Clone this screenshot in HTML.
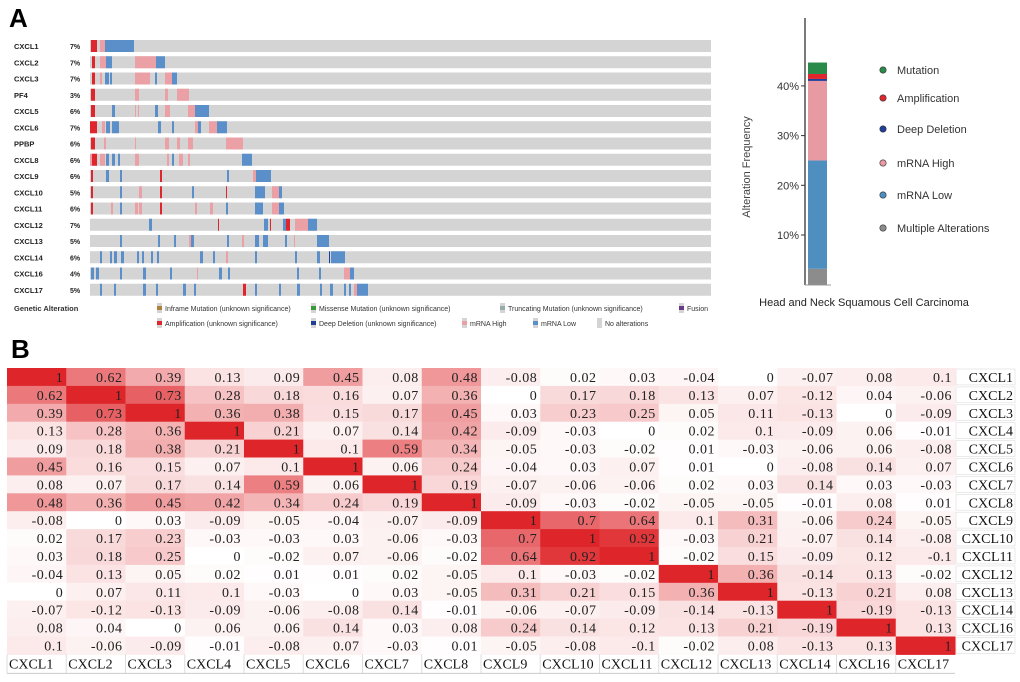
<!DOCTYPE html>
<html><head><meta charset="utf-8"><style>
body{margin:0;background:#fff;width:1020px;height:682px;overflow:hidden}
svg{display:block}
.s{font-family:"Liberation Sans",sans-serif}
.sf{font-family:"Liberation Serif","Noto Serif CJK SC",serif}
</style></head><body>
<svg id="fig" width="1020" height="682" viewBox="0 0 1020 682" xmlns="http://www.w3.org/2000/svg">
<text x="9" y="27" class="s" font-size="26" font-weight="bold">A</text>
<text x="11" y="358" class="s" font-size="26" font-weight="bold">B</text>
<g id="onco"></g>
<g id="oleg" class="s" font-size="7" fill="#333">
<text x="14" y="311" font-weight="bold" font-size="7.5">Genetic Alteration</text>
</g>
<g id="bar"></g>
<g id="heat"></g>
</svg>
<script>
const NS="http://www.w3.org/2000/svg";
function mk(p,t,a){const e=document.createElementNS(NS,t);for(const k in a)e.setAttribute(k,a[k]);p.appendChild(e);return e;}
const COL={r:"#e0262d",p:"#eba0a5",b:"#5b8fc9",d:"#1f3f9a",g:"#3a9a3a"};
// ---- Oncoprint data
const genes=["CXCL1","CXCL2","CXCL3","PF4","CXCL5","CXCL6","PPBP","CXCL8","CXCL9","CXCL10","CXCL11","CXCL12","CXCL13","CXCL14","CXCL16","CXCL17"];
const pcts=["7%","7%","7%","3%","6%","7%","6%","6%","6%","5%","6%","7%","5%","6%","4%","5%"];
const events=[
[[91,6,"r"],[100,5,"p"],[105,29,"b"]],
[[92,3,"r"],[100,6,"p"],[106,6,"b"],[135,21,"p"],[156,9,"b"]],
[[92,3,"r"],[100,2,"p"],[105,4,"b"],[110,2,"b"],[135,15,"p"],[155,2,"b"],[165,7,"p"],[172,5,"b"]],
[[91,4,"r"],[135,4,"p"],[165,3,"p"],[177,12,"p"]],
[[91,4,"r"],[112,3,"b"],[135,1,"p"],[138,1,"p"],[155,3,"b"],[165,5,"p"],[188,7,"p"],[195,14,"b"]],
[[90,7,"r"],[102,3,"p"],[106,4,"b"],[112,7,"b"],[158,3,"b"],[172,2,"b"],[195,3,"p"],[198,3,"b"],[209,8,"p"],[217,10,"b"]],
[[91,4,"r"],[104,2,"p"],[135,1,"p"],[165,4,"p"],[177,3,"p"],[188,5,"p"],[226,17,"p"]],
[[90,2,"p"],[92,5,"r"],[100,5,"p"],[106,3,"b"],[112,3,"b"],[118,2,"b"],[135,4,"p"],[167,2,"p"],[172,2,"b"],[179,4,"p"],[188,2,"p"],[242,10,"b"]],
[[91,2,"r"],[106,3,"b"],[120,2,"b"],[160,2,"r"],[227,2,"b"],[253,3,"p"],[256,15,"b"]],
[[91,2,"r"],[120,2,"b"],[139,3,"p"],[160,2,"r"],[192,2,"b"],[226,1,"r"],[255,10,"b"],[272,7,"p"],[279,3,"b"]],
[[91,2,"r"],[111,2,"p"],[120,2,"b"],[135,3,"p"],[139,3,"p"],[160,2,"r"],[195,2,"p"],[210,3,"p"],[226,2,"b"],[255,8,"b"],[272,7,"p"],[279,5,"b"]],
[[149,3,"b"],[218,1,"r"],[264,4,"b"],[270,1,"r"],[283,3,"b"],[286,4,"r"],[295,13,"p"],[308,9,"b"]],
[[120,2,"b"],[158,2,"b"],[174,2,"b"],[189,2,"p"],[191,3,"b"],[227,2,"b"],[242,2,"p"],[255,4,"b"],[263,5,"b"],[285,2,"b"],[294,1,"p"],[317,12,"b"]],
[[100,2,"b"],[110,2,"b"],[114,3,"b"],[121,3,"b"],[137,2,"b"],[142,2,"b"],[151,2,"b"],[157,2,"b"],[200,3,"b"],[213,2,"b"],[226,2,"p"],[255,2,"b"],[295,2,"b"],[317,3,"b"],[329,1,"d"],[331,14,"b"]],
[[91,3,"b"],[96,3,"b"],[120,2,"b"],[143,3,"b"],[170,2,"b"],[197,1,"p"],[219,3,"b"],[228,2,"b"],[297,2,"b"],[319,2,"b"],[344,6,"p"],[350,4,"b"]],
[[100,2,"b"],[114,2,"b"],[143,3,"b"],[156,2,"b"],[183,3,"b"],[194,2,"b"],[243,3,"r"],[255,2,"b"],[279,2,"b"],[297,3,"b"],[320,2,"b"],[330,3,"b"],[344,2,"b"],[349,2,"b"],[354,3,"p"],[357,11,"b"]]
];
const onco=document.getElementById("onco");
const rowY=i=>40+i*16.25;
genes.forEach((g,i)=>{
 const y=rowY(i);
 let t=mk(onco,"text",{x:14,y:y+9,"font-size":7.5,"font-weight":"bold","font-family":"Liberation Sans,sans-serif",fill:"#222"});t.textContent=g;
 
 
 let p=mk(onco,"text",{x:70,y:y+9,"font-size":7,"font-weight":"bold","font-family":"Liberation Sans,sans-serif",fill:"#222"});p.textContent=pcts[i];
 
 
 let r=mk(onco,"rect",{x:90,y:y,width:621,height:12,fill:"#d4d4d4"});
 
 
 events[i].forEach(ev=>{
  let e=mk(onco,"rect",{x:ev[0],y:y,width:ev[1],height:12,fill:COL[ev[2]]});
  
  
 });
});
// legend
const oleg=document.getElementById("oleg");
const legItems=[[157,311,"#b08040","Inframe Mutation (unknown significance)"],[311,311,"#3a9a3a","Missense Mutation (unknown significance)"],[500,311,"#9aa","Truncating Mutation (unknown significance)"],[679,311,"#6a3a8a","Fusion"],
[157,326,"#e0262d","Amplification (unknown significance)"],[311,326,"#1f3f9a","Deep Deletion (unknown significance)"],[462,326,"#eba0a5","mRNA High"],[533,326,"#5b8fc9","mRNA Low"],[597,326,"#d4d4d4","No alterations"]];
legItems.forEach(l=>{
 let r=mk(oleg,"rect",{x:l[0],y:l[1]-8,width:5,height:10,fill:"#d4d4d4"});
 
 
 let r2=mk(oleg,"rect",{x:l[0],y:l[1]-5,width:5,height:4,fill:l[2]});
 
 
 let t=mk(oleg,"text",{x:l[0]+8,y:l[1]});t.textContent=l[3];
 
 
});
// ---- Bar chart
const segNames=["Multiple Alterations","mRNA Low","mRNA High","Deep Deletion","Amplification","Mutation"];
const segVals=[3.2,21.8,16,0.4,1.0,2.3];
const segCols=["#8c8c8c","#4f8fbf","#e79aa2","#1f3f9a","#e0262d","#2a8a4a"];
const ticks=[10,20,30,40];
const bar=document.getElementById("bar");
const yS=v=>284.7-v*4.97;
let ax=mk(bar,"line",{x1:805,y1:18,x2:805,y2:285,stroke:"#333","stroke-width":1.3});


let bl=mk(bar,"line",{x1:805,y1:285,x2:831,y2:285,stroke:"#999","stroke-width":1});


ticks.forEach(t=>{
 let l=mk(bar,"line",{x1:801,y1:yS(t),x2:805,y2:yS(t),stroke:"#333"});
 
 
 let tx=mk(bar,"text",{x:799,y:yS(t)+4,"text-anchor":"end","font-size":11,"font-family":"Liberation Sans,sans-serif",fill:"#333"});tx.textContent=t+"%";
 
 
});
let acc=0;
segVals.forEach((v,i)=>{
 let r=mk(bar,"rect",{x:808,y:yS(acc+v),width:19,height:v*4.97,fill:segCols[i]});
 
 
 acc+=v;
});
const legY=[228,195,163,129,98,70];
segNames.forEach((n,i)=>{
 let c=mk(bar,"circle",{cx:883,cy:legY[i],r:3.2,fill:segCols[i],stroke:"#333","stroke-width":0.6});
 
 
 let t=mk(bar,"text",{x:897,y:legY[i]+4,"font-size":11,"font-family":"Liberation Sans,sans-serif",fill:"#333"});t.textContent=n;
 
 
});
let yt=mk(bar,"text",{x:0,y:0,transform:"translate(750,167) rotate(-90)","text-anchor":"middle","font-size":11,"font-family":"Liberation Sans,sans-serif",fill:"#444"});yt.textContent="Alteration Frequency";


let cap=mk(bar,"text",{x:864,y:306,"text-anchor":"middle","font-size":11,"font-family":"Liberation Sans,sans-serif",fill:"#222"});cap.textContent="Head and Neck Squamous Cell Carcinoma";


// ---- Heatmap
const hLabels=["CXCL1","CXCL2","CXCL3","CXCL4","CXCL5","CXCL6","CXCL7","CXCL8","CXCL9","CXCL10","CXCL11","CXCL12","CXCL13","CXCL14","CXCL16","CXCL17"];
const r01=[1,0.62,0.39,0.13,0.09,0.45,0.08,0.48,-0.08,0.02,0.03,-0.04,0,-0.07,0.08,0.1];
const r02=[0.62,1,0.73,0.28,0.18,0.16,0.07,0.36,0,0.17,0.18,0.13,0.07,-0.12,0.04,-0.06];
const r03=[0.39,0.73,1,0.36,0.38,0.15,0.17,0.45,0.03,0.23,0.25,0.05,0.11,-0.13,0,-0.09];
const r04=[0.13,0.28,0.36,1,0.21,0.07,0.14,0.42,-0.09,-0.03,0,0.02,0.1,-0.09,0.06,-0.01];
const r05=[0.09,0.18,0.38,0.21,1,0.1,0.59,0.34,-0.05,-0.03,-0.02,0.01,-0.03,-0.06,0.06,-0.08];
const r06=[0.45,0.16,0.15,0.07,0.1,1,0.06,0.24,-0.04,0.03,0.07,0.01,0,-0.08,0.14,0.07];
const r07=[0.08,0.07,0.17,0.14,0.59,0.06,1,0.19,-0.07,-0.06,-0.06,0.02,0.03,0.14,0.03,-0.03];
const r08=[0.48,0.36,0.45,0.42,0.34,0.24,0.19,1,-0.09,-0.03,-0.02,-0.05,-0.05,-0.01,0.08,0.01];
const r09=[-0.08,0,0.03,-0.09,-0.05,-0.04,-0.07,-0.09,1,0.7,0.64,0.1,0.31,-0.06,0.24,-0.05];
const r10=[0.02,0.17,0.23,-0.03,-0.03,0.03,-0.06,-0.03,0.7,1,0.92,-0.03,0.21,-0.07,0.14,-0.08];
const r11=[0.03,0.18,0.25,0,-0.02,0.07,-0.06,-0.02,0.64,0.92,1,-0.02,0.15,-0.09,0.12,-0.1];
const r12=[-0.04,0.13,0.05,0.02,0.01,0.01,0.02,-0.05,0.1,-0.03,-0.02,1,0.36,-0.14,0.13,-0.02];
const r13=[0,0.07,0.11,0.1,-0.03,0,0.03,-0.05,0.31,0.21,0.15,0.36,1,-0.13,0.21,0.08];
const r14=[-0.07,-0.12,-0.13,-0.09,-0.06,-0.08,0.14,-0.01,-0.06,-0.07,-0.09,-0.14,-0.13,1,-0.19,-0.13];
const r15=[0.08,0.04,0,0.06,0.06,0.14,0.03,0.08,0.24,0.14,0.12,0.13,0.21,-0.19,1,0.13];
const r16=[0.1,-0.06,-0.09,-0.01,-0.08,0.07,-0.03,0.01,-0.05,-0.08,-0.1,-0.02,0.08,-0.13,0.13,1];
const matrix=[r01,r02,r03,r04,r05,r06,r07,r08,r09,r10,r11,r12,r13,r14,r15,r16];
const heat=document.getElementById("heat");
const X0=7,CW=59.25,Y0=368,RH=17.9;
const cx=j=>X0+j*CW, cy=i=>Y0+i*RH;
function hcol(v){const a=Math.min(1,Math.abs(v));const r=Math.round(255+(222-255)*a),g=Math.round(255+(38-255)*a),b=Math.round(255+(42-255)*a);return `rgb(${r},${g},${b})`;}
matrix.forEach((row,i)=>{
 row.forEach((v,j)=>{
  let r=mk(heat,"rect",{x:cx(j),y:cy(i),width:CW+0.5,height:RH+0.5,fill:hcol(v)});
  
  
  let t=mk(heat,"text",{x:cx(j)+CW-3,y:cy(i)+14,"text-anchor":"end","font-size":14,"letter-spacing":"0.5","font-family":"Liberation Serif,Noto Serif CJK SC,serif",fill:"#222"});
  t.textContent=String(v);
  
  
 });
 let rl=mk(heat,"rect",{x:cx(16)+1,y:cy(i)+1,width:59,height:RH-2,fill:"#fff",stroke:"#ddd","stroke-width":0.6});
 
 
 let lt=mk(heat,"text",{x:cx(16)+58,y:cy(i)+14,"text-anchor":"end","font-size":14,"font-family":"Liberation Serif,Noto Serif CJK SC,serif",fill:"#111"});lt.textContent=hLabels[i];
 
 
});
hLabels.forEach((l,j)=>{
 let t=mk(heat,"text",{x:cx(j)+2,y:cy(16)+14,"font-size":14,"font-family":"Liberation Serif,Noto Serif CJK SC,serif",fill:"#111"});t.textContent=l;
 
 
 let s=mk(heat,"line",{x1:cx(j),y1:cy(16),x2:cx(j),y2:cy(16)+19,stroke:"#ddd"});
 
 
});
let bb=mk(heat,"line",{x1:X0,y1:cy(16)+19,x2:cx(16),y2:cy(16)+19,stroke:"#ccc"});


</script>
</body></html>
